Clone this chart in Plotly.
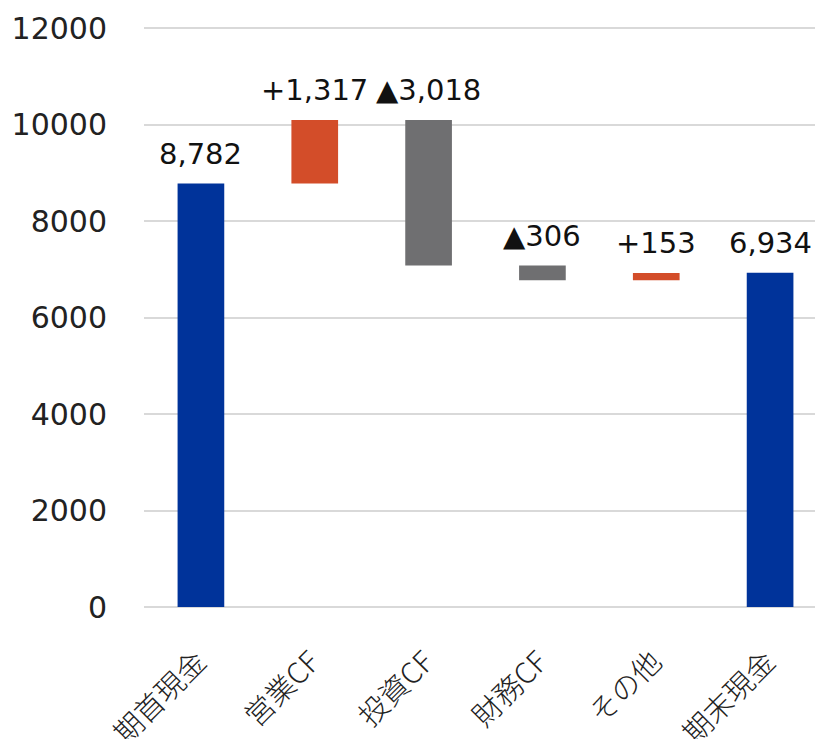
import plotly.graph_objects as go

categories = ["期首現金", "営業CF", "投資CF", "財務CF", "その他", "期末現金"]
changes = [8782, 1317, -3018, -306, 153, 6934]
kinds = ["total", "delta", "delta", "delta", "delta", "total"]
labels = ["8,782", "+1,317", "▲3,018", "▲306", "+153", "6,934"]
y_ticks = [0, 2000, 4000, 6000, 8000, 10000, 12000]

BLUE = "#00339A"
ORANGE = "#D34D29"
GRAY = "#6F6F71"

bases, heights, colors, tops = [], [], [], []
running = 0
for v, k in zip(changes, kinds):
    if k == "total":
        bases.append(0)
        heights.append(v)
        colors.append(BLUE)
        running = v
    else:
        start, end = running, running + v
        bases.append(min(start, end))
        heights.append(abs(v))
        colors.append(ORANGE if v > 0 else GRAY)
        running = end
    tops.append(bases[-1] + heights[-1])

font_family = "Verdana, 'DejaVu Sans', 'Noto Sans CJK JP', sans-serif"

fig = go.Figure(go.Bar(
    x=categories,
    y=heights,
    base=bases,
    marker=dict(color=colors, line=dict(width=0)),
    width=0.41,
    hoverinfo="skip",
))

for c, t, lab in zip(categories, tops, labels):
    fig.add_annotation(
        x=c, y=t, text=lab, showarrow=False,
        xanchor="center", yanchor="bottom", yshift=11,
        font=dict(size=29, color="#111111", family=font_family),
    )

fig.update_layout(
    width=823,
    height=739,
    margin=dict(l=136, r=4, t=18, b=140),
    plot_bgcolor="white",
    paper_bgcolor="white",
    showlegend=False,
    font=dict(family=font_family, color="#222222"),
)
fig.update_yaxes(
    range=[0, 12050],
    tickvals=y_ticks,
    ticktext=[str(t) for t in y_ticks],
    tickfont=dict(size=30, color="#222222", family=font_family),
    showgrid=True,
    gridcolor="#D9D9D9",
    gridwidth=1.5,
    zeroline=True,
    zerolinecolor="#D9D9D9",
    zerolinewidth=1.5,
    showline=False,
    ticks="",
    ticklabelstandoff=36,
    automargin=False,
)
fig.update_xaxes(
    tickangle=-45,
    tickfont=dict(size=29, color="#222222", family="'Noto Sans CJK JP', sans-serif", weight=300),
    showgrid=False,
    showline=False,
    ticks="",
    automargin=False,
    ticklabelstandoff=31,
    ticklabelshift=-3,
)

fig.write_html("out.html")
